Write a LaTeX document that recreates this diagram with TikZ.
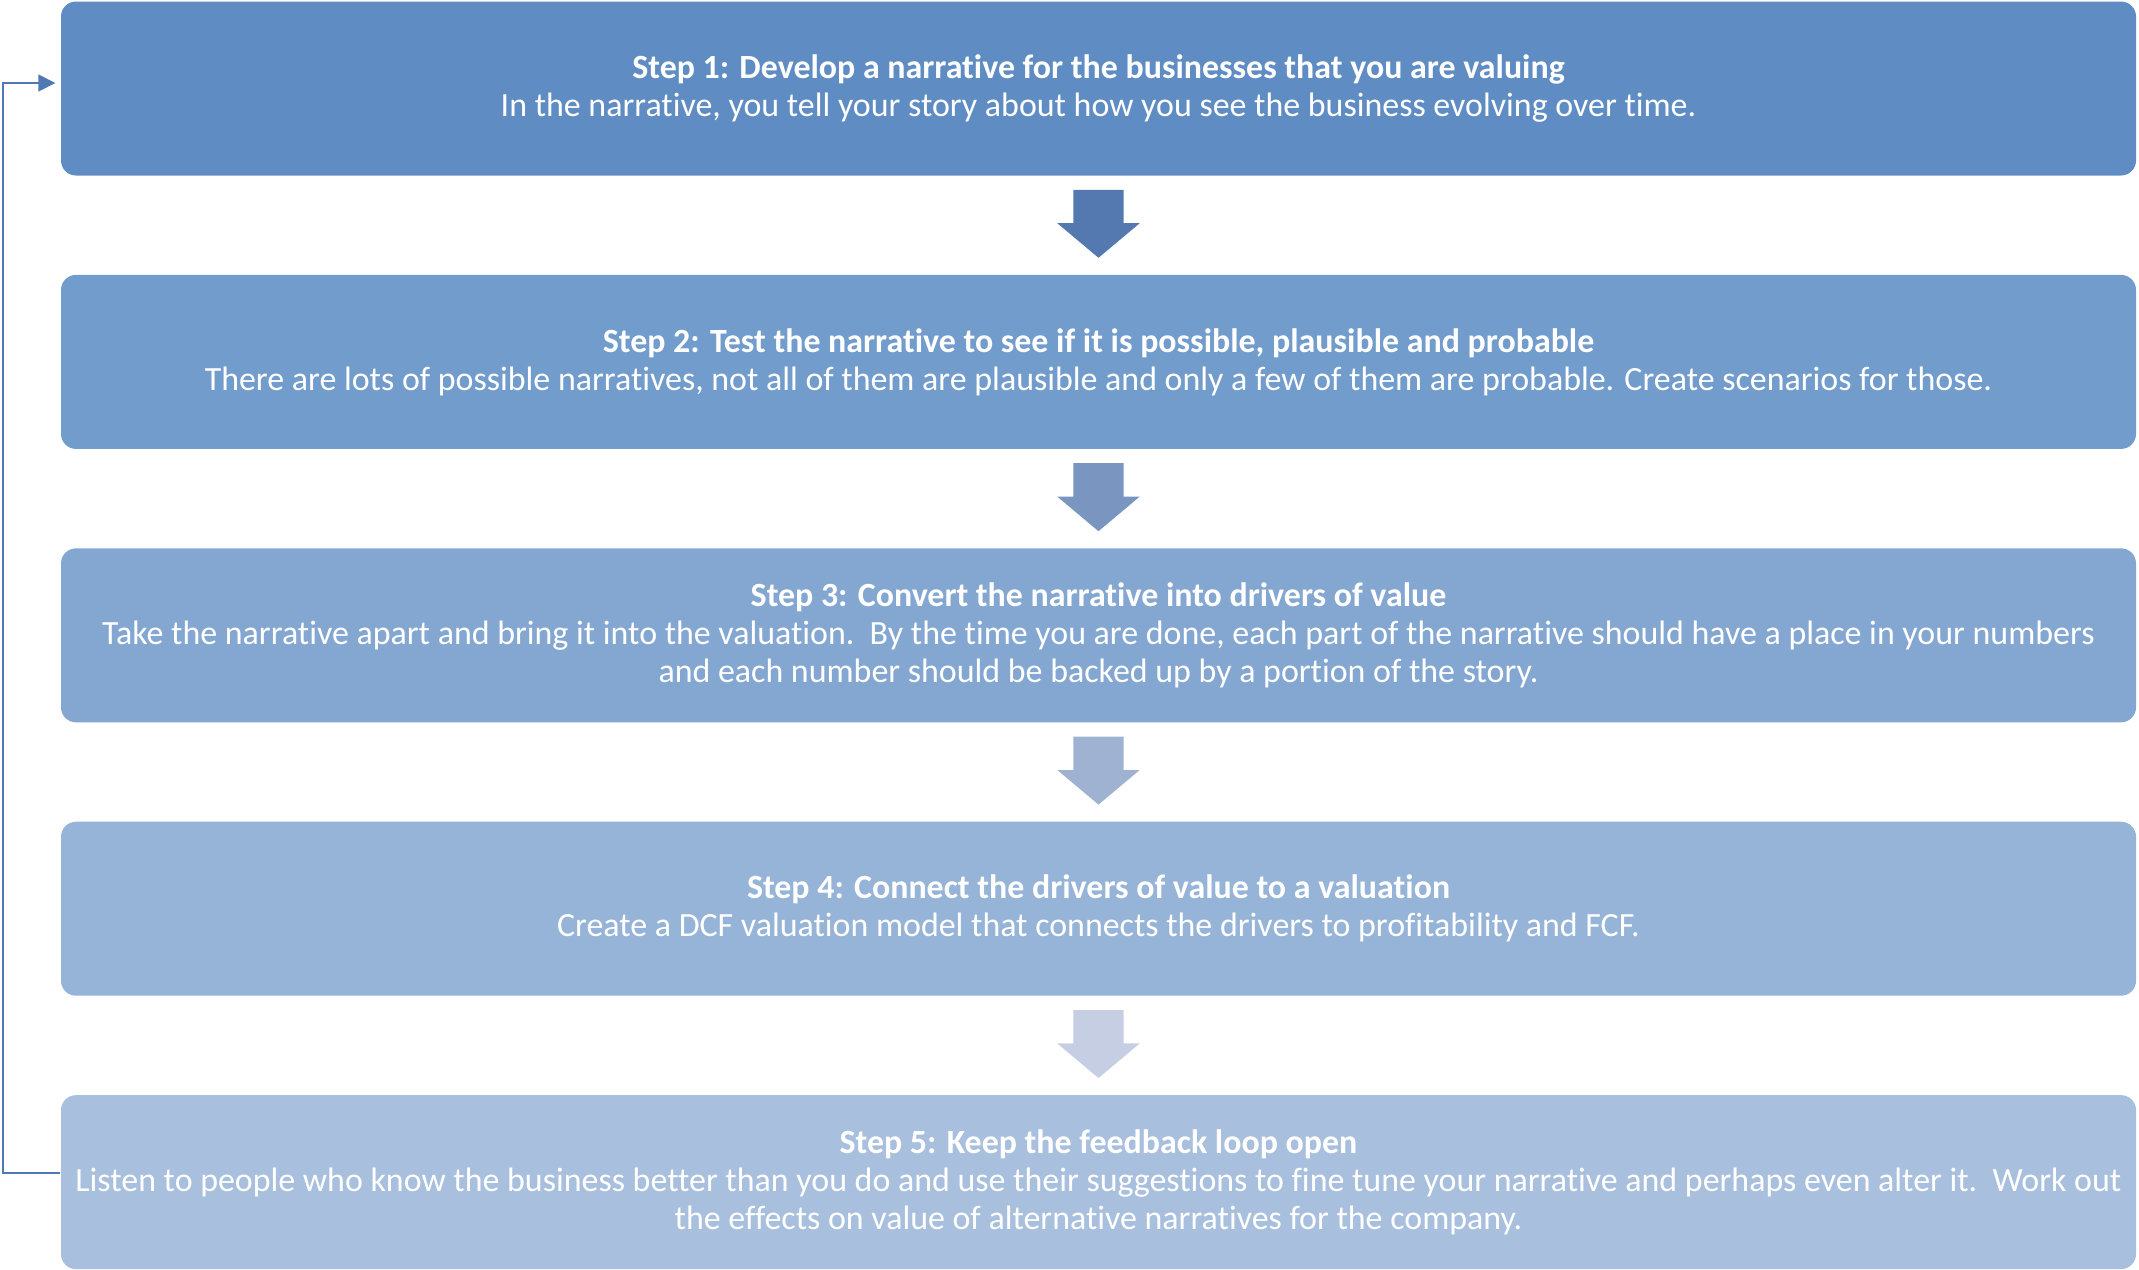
\documentclass[tikz,border=0pt]{standalone}
\usepackage{fontspec}
\setmainfont{Carlito}[Ligatures=NoCommon]
\usetikzlibrary{shapes.arrows, arrows.meta, positioning, calc}
\definecolor{stepone}{RGB}{95,141,195}
\definecolor{steptwo}{RGB}{114,156,204}
\definecolor{stepthree}{RGB}{132,167,210}
\definecolor{stepfour}{RGB}{150,180,216}
\definecolor{stepfive}{RGB}{168,191,221}
\definecolor{arrowone}{RGB}{84,121,176}
\definecolor{arrowtwo}{RGB}{122,150,192}
\definecolor{arrowthree}{RGB}{160,178,210}
\definecolor{arrowfour}{RGB}{197,206,226}
\definecolor{loopblue}{RGB}{80,120,180}

\begin{document}
\begin{tikzpicture}[
    node distance=0.98cm,
    stepbox/.style={rectangle, rounded corners=0.15cm, draw=none,
                    minimum width=20.75cm, minimum height=1.74cm, inner sep=0pt,
                    align=center, text=white, font=\fontsize{9.65}{10.8}\selectfont},
    downarr/.style={single arrow, shape border rotate=270, draw=none,
                    inner xsep=0.245cm, inner ysep=0pt,
                    minimum height=0.68cm, yshift=0.12cm,
                    single arrow head extend=0.16cm, single arrow tip angle=100},
    looparr/.style={-{Triangle[length=0.17cm, width=0.17cm]}, line width=0.45pt, color=loopblue}
]
\useasboundingbox (0,0) rectangle (21.39,-12.69);

\node[stepbox, fill=stepone] (S1) at (10.985,-0.885)
  {\textbf{Step 1: Develop a narrative for the businesses that you are valuing}\\
   In the narrative, you tell your story about how you see the business evolving over time.};
\node[stepbox, fill=steptwo, below=of S1] (S2)
  {\textbf{Step 2: Test the narrative to see if it is possible, plausible and probable}\\
   There are lots of possible narratives, not all of them are plausible and only a few of them are probable. Create scenarios for those.};
\node[stepbox, fill=stepthree, below=of S2] (S3)
  {\textbf{Step 3: Convert the narrative into drivers of value}\\
   Take the narrative apart and bring it into the valuation.\ \ By the time you are done, each part of the narrative should have a place in your numbers\\
   and each number should be backed up by a portion of the story.};
\node[stepbox, fill=stepfour, below=of S3] (S4)
  {\textbf{Step 4: Connect the drivers of value to a valuation}\\
   Create a DCF valuation model that connects the drivers to profitability and FCF.};
\node[stepbox, fill=stepfive, below=of S4] (S5)
  {\textbf{Step 5: Keep the feedback loop open}\\
   Listen to people who know the business better than you do and use their suggestions to fine tune your narrative and perhaps even alter it.\ \ Work out\\
   the effects on value of alternative narratives for the company.};

% block arrows between the steps
\node[downarr, fill=arrowone]   (A12) at ($(S1.south)!0.5!(S2.north)$) {};
\node[downarr, fill=arrowtwo]   (A23) at ($(S2.south)!0.5!(S3.north)$) {};
\node[downarr, fill=arrowthree] (A34) at ($(S3.south)!0.5!(S4.north)$) {};
\node[downarr, fill=arrowfour]  (A45) at ($(S4.south)!0.5!(S5.north)$) {};

% feedback loop
\coordinate (L) at (0.03,0);
\draw[looparr] ([yshift=0.09cm]S5.west) -- ([yshift=0.09cm]S5.west -| L)
  |- ([xshift=-0.05cm, yshift=0.055cm]S1.west);
\end{tikzpicture}
\end{document}
